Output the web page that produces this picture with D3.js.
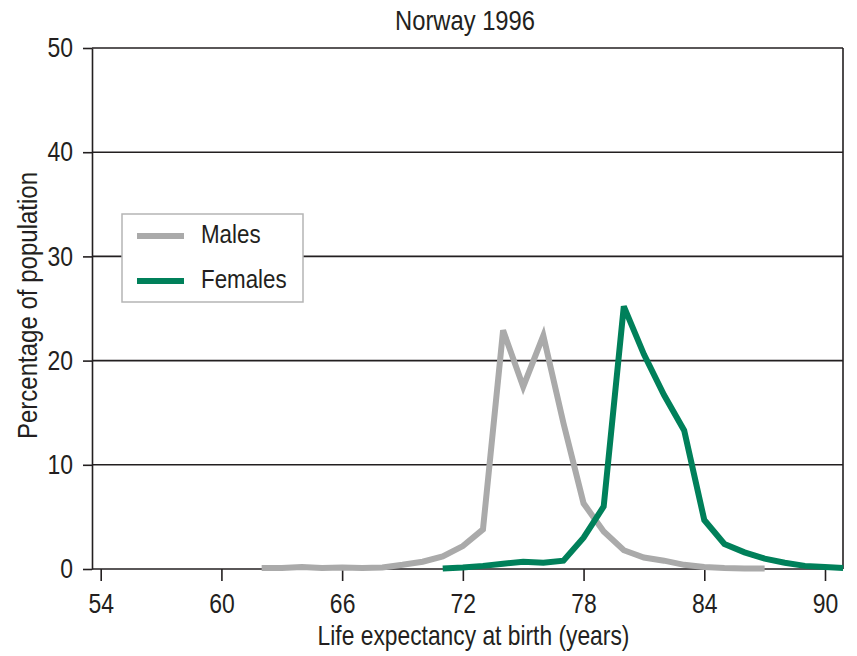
<!DOCTYPE html>
<html>
<head>
<meta charset="utf-8">
<script src="https://cdn.jsdelivr.net/npm/d3@7"></script>
<style>
  body { margin: 0; background: #fff; }
  text { font-family: "Liberation Sans", Arial, sans-serif; fill: #231f20; }
</style>
</head>
<body>
<div id="chart"></div>
<script>
// data
const maleYears = [62, 63, 64, 65, 66, 67, 68, 69, 70, 71, 72, 73, 74, 75, 76, 77, 78, 79, 80, 81, 82, 83, 84, 85, 86, 87];
const maleValues = [0.1, 0.1, 0.2, 0.1, 0.15, 0.1, 0.15, 0.4, 0.7, 1.2, 2.2, 3.8, 22.9, 17.5, 22.4, 14.0, 6.3, 3.6, 1.8, 1.1, 0.8, 0.4, 0.2, 0.1, 0.05, 0.05];
const femaleYears = [71, 72, 73, 74, 75, 76, 77, 78, 79, 80, 81, 82, 83, 84, 85, 86, 87, 88, 89, 90, 90.9];
const femaleValues = [0.05, 0.15, 0.3, 0.5, 0.7, 0.6, 0.8, 3.0, 6.0, 25.2, 20.6, 16.7, 13.3, 4.7, 2.4, 1.6, 1.0, 0.6, 0.3, 0.2, 0.1];
const xTicks = [54, 60, 66, 72, 78, 84, 90];
const yTicks = [0, 10, 20, 30, 40, 50];

const width = 857;
const height = 656;
const frame = { left: 92, right: 843, top: 48, bottom: 569 };
const ink = '#231f20';

// squeeze text horizontally (reference uses a condensed face)
function condense(sel, sx) {
  sel.each(function () {
    const t = d3.select(this);
    const x0 = +t.attr('x') || 0;
    const tr = t.attr('transform') || '';
    t.attr('x', x0 / sx).attr('transform', `${tr} scale(${sx},1)`);
  });
}

const svg = d3.select('#chart')
  .append('svg')
  .attr('width', width)
  .attr('height', height);

const x = d3.scaleLinear()
  .domain([54, 90])
  .range([100.7, 825]);

const y = d3.scaleLinear()
  .domain([0, 50])
  .range([frame.bottom, frame.top]);

// gridlines
svg.append('g')
  .selectAll('line')
  .data(yTicks)
  .enter()
  .append('line')
  .attr('x1', frame.left)
  .attr('x2', frame.right)
  .attr('y1', d => y(d))
  .attr('y2', d => y(d))
  .attr('stroke', ink)
  .attr('stroke-width', 1.6);

// right border
svg.append('line')
  .attr('x1', frame.right).attr('x2', frame.right)
  .attr('y1', frame.top).attr('y2', frame.bottom)
  .attr('stroke', ink)
  .attr('stroke-width', 1.6);

// y axis
const yAxis = svg.append('g')
  .attr('transform', `translate(${frame.left},0)`)
  .call(d3.axisLeft(y).tickValues(yTicks).tickSize(9).tickPadding(10).tickSizeOuter(0));
yAxis.select('.domain').attr('stroke', ink).attr('stroke-width', 1.6);
yAxis.selectAll('.tick line').attr('stroke', ink).attr('stroke-width', 1.6);
yAxis.selectAll('text')
  .style('font-size', '27px')
  .attr('fill', ink)
  .call(condense, 0.85);

// x axis
const xAxis = svg.append('g')
  .attr('transform', `translate(0,${frame.bottom})`)
  .call(d3.axisBottom(x).tickValues(xTicks).tickSize(12).tickPadding(13).tickSizeOuter(0));
xAxis.select('.domain').remove();
xAxis.selectAll('.tick line').attr('stroke', ink).attr('stroke-width', 1.6);
xAxis.selectAll('text')
  .style('font-size', '27px')
  .attr('fill', ink)
  .call(condense, 0.85);

// lines
const line = d3.line()
  .x(d => x(d[0]))
  .y(d => y(d[1]));

svg.append('path')
  .datum(maleYears.map((yr, i) => [yr, maleValues[i]]))
  .attr('fill', 'none')
  .attr('stroke', '#aaaaaa')
  .attr('stroke-width', 6)
  .attr('d', line);

svg.append('path')
  .datum(femaleYears.map((yr, i) => [yr, femaleValues[i]]))
  .attr('fill', 'none')
  .attr('stroke', '#00805a')
  .attr('stroke-width', 6)
  .attr('d', line);

// Labels
svg.append('text')
  .attr('text-anchor', 'middle')
  .attr('x', 465)
  .attr('y', 30)
  .text('Norway 1996')
  .style('font-size', '27px')
  .call(condense, 0.88);

svg.append('text')
  .attr('text-anchor', 'middle')
  .attr('x', 473.5)
  .attr('y', 645)
  .text('Life expectancy at birth (years)')
  .style('font-size', '27px')
  .call(condense, 0.845);

svg.append('text')
  .attr('text-anchor', 'middle')
  .attr('transform', 'translate(37,305.5) rotate(-90)')
  .text('Percentage of population')
  .style('font-size', '27px')
  .call(condense, 0.89);

// Legend
const legendItems = [
  { label: 'Males', color: '#aaaaaa' },
  { label: 'Females', color: '#00805a' }
];

const legend = svg.append('g')
  .attr('transform', 'translate(122,214)');

legend.append('rect')
  .attr('width', 181)
  .attr('height', 88)
  .attr('fill', '#fff')
  .attr('stroke', '#b5b5b5')
  .attr('stroke-width', 1.5);

legend.selectAll('line')
  .data(legendItems)
  .enter()
  .append('line')
  .attr('x1', 15)
  .attr('x2', 62)
  .attr('y1', (d, i) => 22 + i * 45)
  .attr('y2', (d, i) => 22 + i * 45)
  .attr('stroke', d => d.color)
  .attr('stroke-width', 6);

legend.selectAll('text')
  .data(legendItems)
  .enter()
  .append('text')
  .attr('x', 79)
  .attr('y', (d, i) => 29 + i * 45)
  .text(d => d.label)
  .style('font-size', '26px')
  .call(condense, 0.86);
</script>
</body>
</html>
